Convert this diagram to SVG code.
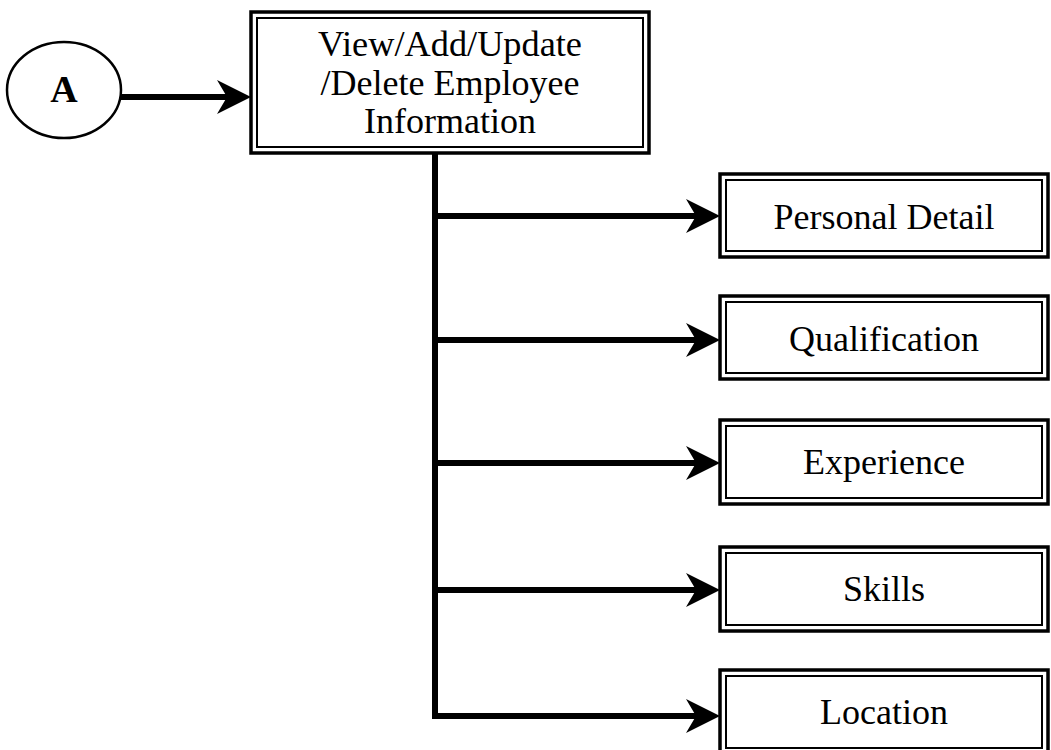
<svg xmlns="http://www.w3.org/2000/svg" width="1051" height="750" viewBox="0 0 1051 750">
  <style>
    .outer { fill: #ffffff; stroke: #000000; stroke-width: 3.5; }
    .inner { fill: none; stroke: #000000; stroke-width: 2; }
    .label { font-family: "Liberation Serif", "Times New Roman", serif; font-size: 35px; fill: #000000; text-anchor: middle; }
    .bold { font-weight: bold; font-size: 38px; }
    .wire { fill: none; stroke: #000000; stroke-width: 6; }
    .circle { fill: #ffffff; stroke: #000000; stroke-width: 2.5; }
  </style>
  <defs>
    <marker id="head" viewBox="0 0 34 34" refX="10" refY="17" markerWidth="34" markerHeight="34" markerUnits="userSpaceOnUse" orient="auto">
      <path d="M34,17 L0,0 L10,17 L0,34 Z" fill="#000000"/>
    </marker>
  </defs>
  <rect width="1051" height="750" fill="#ffffff"/>

  <!-- connectors -->
  <g id="connectors">
    <line class="wire" x1="121" y1="97" x2="227" y2="97" marker-end="url(#head)"/>
    <polyline class="wire" points="435,153 435,716 696,716" marker-end="url(#head)"/>
    <line class="wire" x1="435" y1="216" x2="696" y2="216" marker-end="url(#head)"/>
    <line class="wire" x1="435" y1="340" x2="696" y2="340" marker-end="url(#head)"/>
    <line class="wire" x1="435" y1="463" x2="696" y2="463" marker-end="url(#head)"/>
    <line class="wire" x1="435" y1="590" x2="696" y2="590" marker-end="url(#head)"/>
  </g>

  <!-- start connector -->
  <g id="node-a">
    <ellipse class="circle" cx="64" cy="90" rx="57" ry="48"/>
    <text class="label bold" x="64" y="102">A</text>
  </g>

  <!-- main process -->
  <g id="node-main">
    <rect class="outer" x="251" y="12" width="398" height="141"/>
    <rect class="inner" x="257" y="18" width="386" height="129"/>
    <text class="label" x="450" y="56" textLength="264" lengthAdjust="spacingAndGlyphs">View/Add/Update</text>
    <text class="label" x="450" y="95" textLength="259" lengthAdjust="spacingAndGlyphs">/Delete Employee</text>
    <text class="label" x="450" y="133" textLength="172" lengthAdjust="spacingAndGlyphs">Information</text>
  </g>

  <g id="node-personal">
    <rect class="outer" x="720" y="174" width="328" height="83"/>
    <rect class="inner" x="726" y="180" width="316" height="71"/>
    <text class="label" x="884" y="229" textLength="221" lengthAdjust="spacingAndGlyphs">Personal Detail</text>
  </g>

  <g id="node-qualification">
    <rect class="outer" x="720" y="296" width="328" height="83"/>
    <rect class="inner" x="726" y="302" width="316" height="71"/>
    <text class="label" x="884" y="351" textLength="190" lengthAdjust="spacingAndGlyphs">Qualification</text>
  </g>

  <g id="node-experience">
    <rect class="outer" x="720" y="420" width="328" height="84"/>
    <rect class="inner" x="726" y="426" width="316" height="72"/>
    <text class="label" x="884" y="474" textLength="162" lengthAdjust="spacingAndGlyphs">Experience</text>
  </g>

  <g id="node-skills">
    <rect class="outer" x="720" y="547" width="328" height="84"/>
    <rect class="inner" x="726" y="553" width="316" height="72"/>
    <text class="label" x="884" y="601" textLength="82" lengthAdjust="spacingAndGlyphs">Skills</text>
  </g>

  <g id="node-location">
    <rect class="outer" x="720" y="670" width="328" height="84"/>
    <rect class="inner" x="726" y="676" width="316" height="72"/>
    <text class="label" x="884" y="724" textLength="128" lengthAdjust="spacingAndGlyphs">Location</text>
  </g>
</svg>
